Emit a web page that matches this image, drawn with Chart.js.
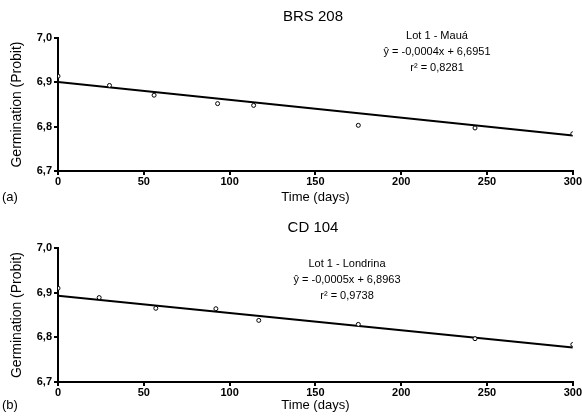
<!DOCTYPE html>
<html><head><meta charset="utf-8">
<script src="https://cdn.jsdelivr.net/npm/chart.js@4/dist/chart.umd.min.js"></script>
<style>
html,body{margin:0;padding:0;background:#fff;}
.box{position:relative;width:582px;height:208px;}
</style></head><body>
<div class="box"><canvas id="ca"></canvas></div>
<div class="box"><canvas id="cb"></canvas></div>
<script>
// ---- data ----
const titleA = "BRS 208";
const titleB = "CD 104";
const daysA = [0, 30, 56, 93, 114, 175, 243, 300];
const probitA = [6.914, 6.893, 6.871, 6.852, 6.848, 6.803, 6.797, 6.784];
const fitDaysA = [0, 300];
const fitA = [6.901, 6.780];
const notesA = ["Lot 1 - Mauá", "ŷ = -0,0004x + 6,6951", "r² = 0,8281"];

const daysB = [0, 24, 57, 92, 117, 175, 243, 300];
const probitB = [6.910, 6.889, 6.865, 6.864, 6.838, 6.829, 6.797, 6.784];
const fitDaysB = [0, 300];
const fitB = [6.893, 6.777];
const notesB = ["Lot 1 - Londrina", "ŷ = -0,0005x + 6,8963", "r² = 0,9738"];

const yTicks = [6.7, 6.8, 6.9, 7.0];
const xTicks = [0, 50, 100, 150, 200, 250, 300];

const FONT = "'Liberation Sans', Arial, sans-serif";

function pts(xs, ys){ return xs.map((x,i)=>({x:x, y:ys[i]})); }

function makeChart(id, title, xs, ys, fx, fy, notes, letter, cfg){
  const textPlugin = {
    id: 'texts',
    afterDraw(chart){
      const ctx = chart.ctx;
      ctx.save();
      ctx.fillStyle = '#000';
      ctx.textAlign = 'center';
      ctx.textBaseline = 'middle';
      ctx.font = "15px " + FONT;
      ctx.fillText(title, 313, cfg.titleY);
      ctx.font = "11px " + FONT;
      notes.forEach((t,i)=>ctx.fillText(t, cfg.noteX, cfg.noteY + i*16));
      ctx.textAlign = 'left';
      ctx.font = "13px " + FONT;
      ctx.fillText(letter, 2, cfg.letterY);
      ctx.restore();
    }
  };
  return new Chart(document.getElementById(id), {
    type: 'scatter',
    data: {
      datasets: [
        {
          type: 'line',
          data: pts(fx, fy),
          borderColor: '#000',
          borderWidth: 2,
          pointRadius: 0,
          fill: false,
          order: 2
        },
        {
          data: pts(xs, ys),
          borderColor: '#000',
          backgroundColor: '#fff',
          borderWidth: 1,
          pointRadius: 2,
          pointStyle: 'circle',
          order: 1
        }
      ]
    },
    options: {
      responsive: true,
      maintainAspectRatio: false,
      animation: false,
      layout: { padding: { top: cfg.top, right: 7, left: 0, bottom: 0 } },
      plugins: { legend: { display: false }, tooltip: { enabled: false }, title: { display: false } },
      scales: {
        x: {
          type: 'linear', min: 0, max: 300,
          afterBuildTicks(s){ s.ticks = xTicks.map(v=>({value:v})); },
          afterFit(s){ s.height = cfg.xh; },
          grid: { drawOnChartArea: false, color: '#000', lineWidth: 2, tickLength: 4, tickColor: '#000' },
          border: { color: '#000', width: 2 },
          ticks: { color: '#000', font: { family: FONT, size: 11, weight: 'bold' }, padding: 0, maxRotation: 0 },
          title: { display: true, text: 'Time (days)', color: '#000', font: { family: FONT, size: 13 }, padding: { top: 0, bottom: cfg.xtb } }
        },
        y: {
          min: 6.7, max: 7.0,
          afterBuildTicks(s){ s.ticks = yTicks.map(v=>({value:v})); },
          afterFit(s){ s.width = 58; },
          grid: { drawOnChartArea: false, color: '#000', lineWidth: 2, tickLength: 4, tickColor: '#000' },
          border: { color: '#000', width: 2 },
          ticks: { color: '#000', font: { family: FONT, size: 11, weight: 'bold' }, padding: 2,
                   callback: v => v.toFixed(1).replace('.', ',') },
          title: { display: true, text: 'Germination (Probit)', color: '#000', font: { family: FONT, size: 14 }, padding: { top: 9, bottom: 0 } }
        }
      }
    },
    plugins: [textPlugin]
  });
}

makeChart('ca', titleA, daysA, probitA, fitDaysA, fitA, notesA, '(a)',
  { top: 38, xh: 37, xtb: 3, titleY: 17, noteX: 437, noteY: 36, letterY: 197 });
makeChart('cb', titleB, daysB, probitB, fitDaysB, fitB, notesB, '(b)',
  { top: 40, xh: 34, xtb: 3, titleY: 20, noteX: 347, noteY: 56, letterY: 197 });
</script>
</body></html>
